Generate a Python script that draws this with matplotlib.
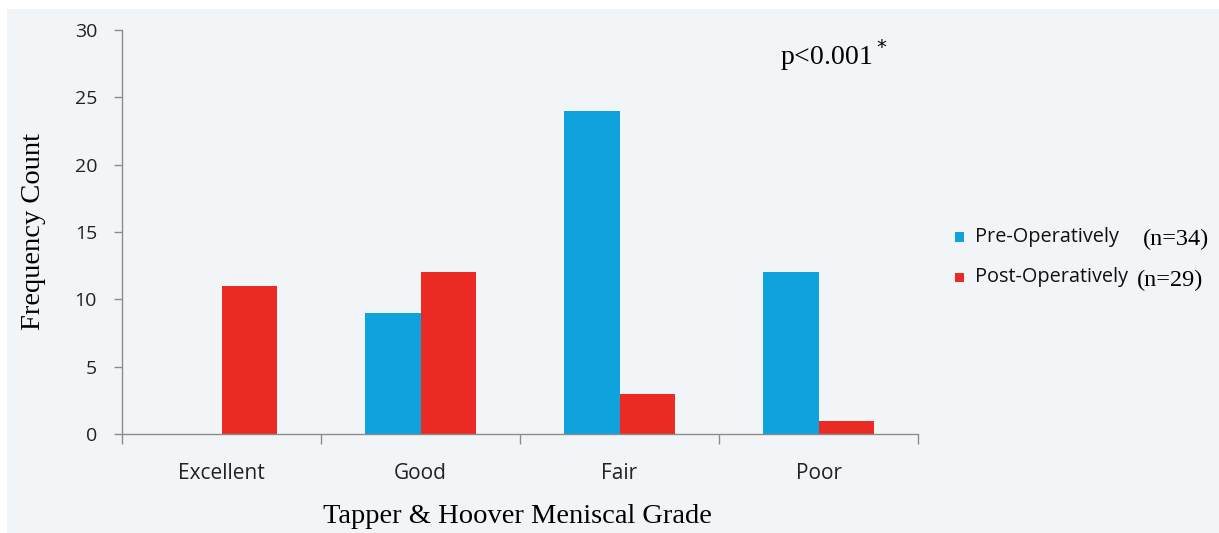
import numpy as np
import matplotlib.pyplot as plt
from matplotlib.patches import Rectangle

# data
grades = ["Excellent", "Good", "Fair", "Poor"]
pre_op = [0, 9, 24, 12]
post_op = [11, 12, 3, 1]
pre_label = "Pre-Operatively"
post_label = "Post-Operatively"
pre_n = "(n=34)"
post_n = "(n=29)"

blue = "#0ea3dc"
red = "#ec2a24"
bg = "#f2f5f7"
axcol = "#8c8c8c"
sans = "Open Sans"
serif = "Liberation Serif"

W, H = 1219, 533
fig = plt.figure(figsize=(W / 100, H / 100), dpi=100)
fig.patch.set_facecolor("white")
fig.add_artist(Rectangle((7 / W, 0), 1, 1 - 9 / H, transform=fig.transFigure,
                         facecolor=bg, edgecolor="none", zorder=0))

ax = fig.add_axes([122 / W, 1 - 434 / H, (918 - 122) / W, (434 - 30) / H])
ax.set_facecolor("none")

x = np.arange(len(grades))
w = 0.28
ax.bar(x - w / 2, pre_op, w, color=blue)
ax.bar(x + w / 2, post_op, w, color=red)

ax.set_xlim(-0.5, len(grades) - 0.5)
ax.set_ylim(0, 30)
ax.set_yticks(range(0, 31, 5))
ax.set_xticks(x)
ax.set_xticklabels(grades, fontfamily=sans, fontsize=15, color="#222222")
ax.set_xticks(np.arange(-0.5, len(grades), 1), minor=True)
ax.tick_params(axis="x", which="major", length=0, pad=21)
ax.tick_params(axis="x", which="minor", length=7, width=1, color=axcol, direction="out")
ax.tick_params(axis="y", length=6, width=1, color=axcol, direction="out", pad=12)
for lab in ax.get_yticklabels():
    lab.set_fontfamily(sans)
    lab.set_fontsize(14)
    lab.set_color("#222222")

for s in ["top", "right"]:
    ax.spines[s].set_visible(False)
for s in ["left", "bottom"]:
    ax.spines[s].set_color(axcol)
    ax.spines[s].set_linewidth(1)

ax.set_ylabel("Frequency Count", fontfamily=serif, fontsize=20.5, va="center")
ax.yaxis.set_label_coords(-0.111, 0.5)
ax.set_xlabel("Tapper & Hoover Meniscal Grade", fontfamily=serif, fontsize=20.5, va="center")
ax.xaxis.set_label_coords(0.497, -0.205)

fig.text(780 / W, 1 - 55 / H, "p<0.001$^*$", fontfamily=serif, fontsize=20,
         va="center", ha="left")

# legend drawn by hand
for yc, col, lab, ntxt, nx, ny in [(237, blue, pre_label, pre_n, 1143, 239),
                                   (277, red, post_label, post_n, 1137, 280)]:
    fig.add_artist(Rectangle((955 / W, 1 - (yc + 4.5) / H), 9 / W, 9 / H,
                             transform=fig.transFigure, facecolor=col, edgecolor="none"))
    fig.text(975 / W, 1 - yc / H, lab, fontfamily=sans, fontsize=14.3, va="center",
             color="#111111")
    fig.text(nx / W, 1 - ny / H, ntxt, fontfamily=serif, fontsize=17.5, va="center")

fig.savefig("out.png", dpi=100)
